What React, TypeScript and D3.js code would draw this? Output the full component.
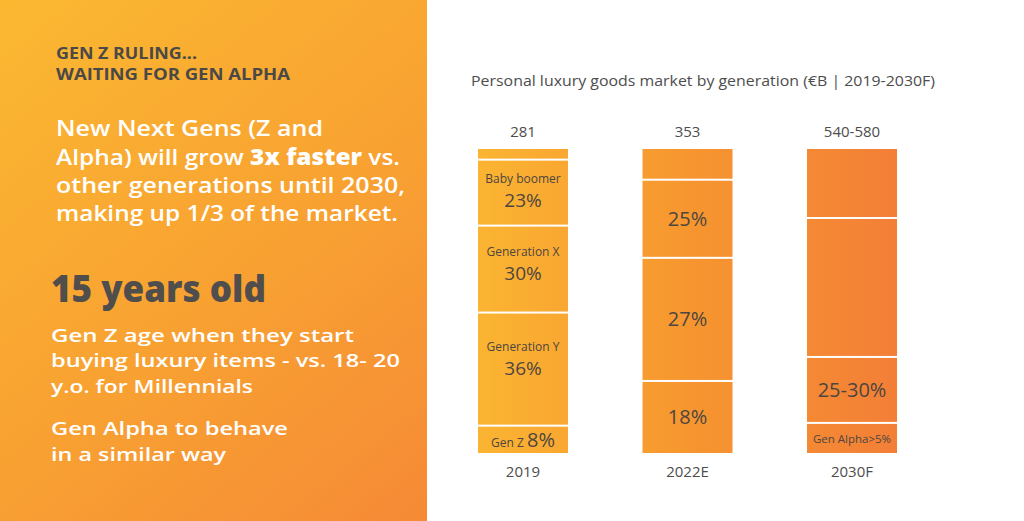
import React from "react";
import * as d3 from "d3";

// ---- data ----
const years = ["2019", "2022E", "2030F"];
const totals = ["281", "353", "540-580"];
// segment shares of each bar, bottom to top (% of bar height)
const shares2019 = [9, 37.2, 28.6, 21.7, 3.5];
const shares2022 = [23.7, 40.5, 25.7, 10.1];
const shares2030 = [9.9, 21.7, 45.7, 22.7];
// segment labels, bottom to top
const names2019 = ["Gen Z", "Generation Y", "Generation X", "Baby boomer", ""];
const pcts2019 = ["8%", "36%", "30%", "23%", ""];
const names2022 = ["", "", "", ""];
const pcts2022 = ["18%", "27%", "25%", ""];
const names2030 = ["Gen Alpha>5%", "", "", ""];
const pcts2030 = ["", "25-30%", "", ""];

const chartTitle = "Personal luxury goods market by generation (€B | 2019-2030F)";
const kicker = ["GEN Z RULING...", "WAITING FOR GEN ALPHA"];
const bigStat = "15 years old";
const statLines = ["Gen Z age when they start", "buying luxury items - vs. 18- 20", "y.o. for Millennials"];
const alphaLines = ["Gen Alpha to behave", "in a similar way"];

const barShares = [shares2019, shares2022, shares2030];
const barNames = [names2019, names2022, names2030];
const barPcts = [pcts2019, pcts2022, pcts2030];

const FONT = "'Open Sans', 'DejaVu Sans', sans-serif";
const LABEL = "#4d4640";

export default function App() {
  if (typeof document !== "undefined") document.body.style.margin = "0";
  const W = 1024, H = 521;
  const x = d3.scaleBand<string>().domain(years).range([478, 897]).paddingInner(0.453).paddingOuter(0);
  const y = d3.scaleLinear().domain([0, 100]).range([453, 149]);
  const bw = x.bandwidth();

  return (
    <svg width={W} height={H} style={{ position: "absolute", left: 0, top: 0 }} fontFamily={FONT}>
      <defs>
        <linearGradient id="panel" x1="0" y1="0" x2="427" y2="521" gradientUnits="userSpaceOnUse">
          <stop offset="0" stopColor="#FBB831" />
          <stop offset="0.55" stopColor="#F8A132" />
          <stop offset="1" stopColor="#F68A36" />
        </linearGradient>
        <linearGradient id="bars" x1="478" y1="0" x2="897" y2="0" gradientUnits="userSpaceOnUse">
          <stop offset="0" stopColor="#FBB432" />
          <stop offset="0.5" stopColor="#F6962F" />
          <stop offset="1" stopColor="#F37F37" />
        </linearGradient>
      </defs>
      <rect x={0} y={0} width={W} height={H} fill="#fff" />
      <rect x={0} y={0} width={427} height={H} fill="url(#panel)" />

      {/* left panel text */}
      <g fill="#4a4947" fontWeight={700} fontSize={16.5}>
        <text x={56} y={59} textLength={141} lengthAdjust="spacingAndGlyphs">{kicker[0]}</text>
        <text x={56} y={80} textLength={234} lengthAdjust="spacingAndGlyphs">{kicker[1]}</text>
      </g>
      <g fill="#fff" fontWeight={600} fontSize={22}>
        <text x={56} y={136} textLength={267} lengthAdjust="spacingAndGlyphs">New Next Gens (Z and</text>
        <text x={56} y={165} textLength={344} lengthAdjust="spacingAndGlyphs">
          Alpha) will grow <tspan fontWeight={800}>3x faster</tspan> vs.
        </text>
        <text x={56} y={193} textLength={349} lengthAdjust="spacingAndGlyphs">other generations until 2030,</text>
        <text x={56} y={221} textLength={342} lengthAdjust="spacingAndGlyphs">making up 1/3 of the market.</text>
      </g>
      <text x={51} y={302} fill="#4f4e4c" fontWeight={800} fontSize={37} textLength={215} lengthAdjust="spacingAndGlyphs">
        {bigStat}
      </text>
      <g fill="#fff" fontWeight={600} fontSize={18.3}>
        <text x={51} y={342} textLength={303} lengthAdjust="spacingAndGlyphs">{statLines[0]}</text>
        <text x={51} y={367} textLength={349} lengthAdjust="spacingAndGlyphs">{statLines[1]}</text>
        <text x={51} y={393} textLength={202} lengthAdjust="spacingAndGlyphs">{statLines[2]}</text>
        <text x={51} y={435} textLength={237} lengthAdjust="spacingAndGlyphs">{alphaLines[0]}</text>
        <text x={51} y={461} textLength={175} lengthAdjust="spacingAndGlyphs">{alphaLines[1]}</text>
      </g>

      {/* chart title */}
      <text x={471} y={86} fill="#4d4d4d" fontSize={15} textLength={464} lengthAdjust="spacingAndGlyphs">
        {chartTitle}
      </text>

      {/* bars */}
      {years.map((yr, i) => {
        const shares = barShares[i];
        const ends = d3.cumsum(shares);
        const x0 = x(yr) as number;
        const cx = x0 + bw / 2;
        return (
          <g key={yr}>
            {shares.map((s, j) => {
              const lo = j === 0 ? 0 : ends[j - 1];
              const hi = ends[j];
              const yTop = y(hi) + (j === shares.length - 1 ? 0 : 1);
              const yBot = y(lo) - (j === 0 ? 0 : 1);
              const h = yBot - yTop;
              const c = (yTop + yBot) / 2;
              const name = barNames[i][j];
              const pct = barPcts[i][j];
              let label = null;
              if (name && pct && h < 40) {
                label = (
                  <text x={cx} y={c + 7} textAnchor="middle" fill={LABEL}>
                    <tspan fontSize={12}>{name} </tspan>
                    <tspan fontSize={20}>{pct}</tspan>
                  </text>
                );
              } else if (name && pct) {
                // two-line labels sit a little above the middle of tall segments
                const cs = c - Math.max(0, h - 70) * 0.2;
                label = (
                  <g fill={LABEL} textAnchor="middle">
                    <text x={cx} y={cs - 10} fontSize={12}>{name}</text>
                    <text x={cx} y={cs + 14} fontSize={19}>{pct}</text>
                  </g>
                );
              } else if (pct) {
                label = (
                  <text x={cx} y={c + 7} textAnchor="middle" fill={LABEL} fontSize={20}>{pct}</text>
                );
              } else if (name) {
                label = (
                  <text x={cx} y={c + 5} textAnchor="middle" fill={LABEL} fontSize={11.5}>{name}</text>
                );
              }
              return (
                <g key={j}>
                  <rect x={x0} y={yTop} width={bw} height={h} fill="url(#bars)" />
                  {label}
                </g>
              );
            })}
            <text x={cx} y={y(100) - 12} textAnchor="middle" fill="#4d4d4d" fontSize={15}>{totals[i]}</text>
            <text x={cx} y={y(0) + 24} textAnchor="middle" fill="#4d4d4d" fontSize={15}>{yr}</text>
          </g>
        );
      })}
    </svg>
  );
}
